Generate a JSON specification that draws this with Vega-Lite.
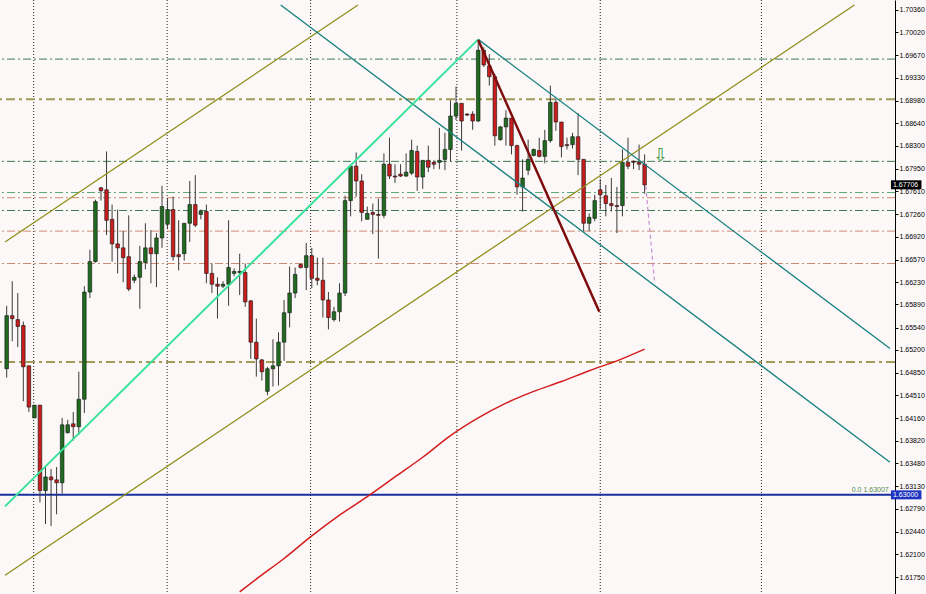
{
"$schema": "https://vega.github.io/schema/vega-lite/v6.json",
"width": 895, "height": 594,
"autosize": {"type": "none"},
"padding": {"left": 0, "top": 0, "right": 31, "bottom": 0},
"background": "#fdf8f8",
"config": {"view": {"stroke": null}, "font": "Liberation Sans"},
"resolve": {"axis": {"y": "independent", "x": "independent"}},
"datasets": {
"vgrid": [{"i": 4.87}, {"i": 28.93}, {"i": 54.78}, {"i": 81.16}, {"i": 107.0}, {"i": 136.06}],
"levels": [
{"p": 1.69614, "g": "dg"}, {"p": 1.68062, "g": "dg"}, {"p": 1.67589, "g": "lg"},
{"p": 1.67510, "g": "sa"}, {"p": 1.67316, "g": "dg"}, {"p": 1.67003, "g": "sa"}, {"p": 1.66511, "g": "sa"}],
"olevels": [{"p": 1.69003}, {"p": 1.65018}],
"blue": [{"p": 1.63000}],
"candles": [
{"i":0,"o":1.64914,"h":1.65869,"l":1.64780,"c":1.65720},
{"i":1,"o":1.65720,"h":1.66242,"l":1.65332,"c":1.65675},
{"i":2,"o":1.65660,"h":1.66063,"l":1.65242,"c":1.65556},
{"i":3,"o":1.65570,"h":1.65630,"l":1.64421,"c":1.64944},
{"i":4,"o":1.64959,"h":1.64959,"l":1.64257,"c":1.64332},
{"i":5,"o":1.64168,"h":1.64362,"l":1.64168,"c":1.64362},
{"i":6,"o":1.64362,"h":1.64362,"l":1.62885,"c":1.63064},
{"i":7,"o":1.63064,"h":1.63422,"l":1.62556,"c":1.63272},
{"i":8,"o":1.63272,"h":1.63392,"l":1.62526,"c":1.63228},
{"i":9,"o":1.63228,"h":1.63422,"l":1.62705,"c":1.63183},
{"i":10,"o":1.63183,"h":1.64168,"l":1.63019,"c":1.64063},
{"i":11,"o":1.63944,"h":1.64138,"l":1.63929,"c":1.64063},
{"i":12,"o":1.64078,"h":1.64257,"l":1.63825,"c":1.64034},
{"i":13,"o":1.64034,"h":1.64869,"l":1.63914,"c":1.64451},
{"i":14,"o":1.64451,"h":1.66167,"l":1.64242,"c":1.66078},
{"i":15,"o":1.66078,"h":1.66719,"l":1.65988,"c":1.66540},
{"i":16,"o":1.66540,"h":1.67480,"l":1.66525,"c":1.67451},
{"i":17,"o":1.67660,"h":1.67674,"l":1.67466,"c":1.67615},
{"i":18,"o":1.67630,"h":1.68212,"l":1.66943,"c":1.67167},
{"i":19,"o":1.67182,"h":1.67406,"l":1.66540,"c":1.66809},
{"i":20,"o":1.66809,"h":1.67331,"l":1.66361,"c":1.66749},
{"i":21,"o":1.66749,"h":1.67003,"l":1.66227,"c":1.66600},
{"i":22,"o":1.66615,"h":1.67242,"l":1.66093,"c":1.66123},
{"i":23,"o":1.66257,"h":1.66346,"l":1.66212,"c":1.66302},
{"i":24,"o":1.66302,"h":1.66779,"l":1.65824,"c":1.66540},
{"i":25,"o":1.66525,"h":1.67122,"l":1.66421,"c":1.66749},
{"i":26,"o":1.66749,"h":1.67018,"l":1.66212,"c":1.66660},
{"i":27,"o":1.66660,"h":1.66973,"l":1.66152,"c":1.66899},
{"i":28,"o":1.66899,"h":1.67689,"l":1.66749,"c":1.67376},
{"i":29,"o":1.67107,"h":1.67495,"l":1.67033,"c":1.67331},
{"i":30,"o":1.67331,"h":1.67525,"l":1.66555,"c":1.66615},
{"i":31,"o":1.66645,"h":1.67167,"l":1.66406,"c":1.66615},
{"i":32,"o":1.66660,"h":1.67122,"l":1.66555,"c":1.67122},
{"i":33,"o":1.67122,"h":1.67764,"l":1.66839,"c":1.67406},
{"i":34,"o":1.67406,"h":1.67853,"l":1.67063,"c":1.67093},
{"i":35,"o":1.67257,"h":1.67331,"l":1.67182,"c":1.67301},
{"i":36,"o":1.67301,"h":1.67406,"l":1.66212,"c":1.66361},
{"i":37,"o":1.66361,"h":1.66511,"l":1.66063,"c":1.66197},
{"i":38,"o":1.66197,"h":1.66302,"l":1.65675,"c":1.66167},
{"i":39,"o":1.66167,"h":1.66242,"l":1.66138,"c":1.66197},
{"i":40,"o":1.66197,"h":1.67167,"l":1.65869,"c":1.66451},
{"i":41,"o":1.66361,"h":1.66436,"l":1.66317,"c":1.66391},
{"i":42,"o":1.66376,"h":1.66660,"l":1.66033,"c":1.66391},
{"i":43,"o":1.66376,"h":1.66511,"l":1.65854,"c":1.65929},
{"i":44,"o":1.65944,"h":1.65958,"l":1.65063,"c":1.65317},
{"i":45,"o":1.65317,"h":1.65675,"l":1.64794,"c":1.65063},
{"i":46,"o":1.65048,"h":1.65063,"l":1.64735,"c":1.64869},
{"i":47,"o":1.64571,"h":1.64944,"l":1.64511,"c":1.64914},
{"i":48,"o":1.64914,"h":1.65362,"l":1.64645,"c":1.64959},
{"i":49,"o":1.64959,"h":1.65466,"l":1.64660,"c":1.65317},
{"i":50,"o":1.65317,"h":1.65958,"l":1.65033,"c":1.65764},
{"i":51,"o":1.65764,"h":1.66466,"l":1.65541,"c":1.66063},
{"i":52,"o":1.66063,"h":1.66451,"l":1.65988,"c":1.66346},
{"i":53,"o":1.66496,"h":1.66511,"l":1.66436,"c":1.66451},
{"i":54,"o":1.66451,"h":1.66824,"l":1.66108,"c":1.66630},
{"i":55,"o":1.66630,"h":1.66749,"l":1.66138,"c":1.66287},
{"i":56,"o":1.66287,"h":1.66600,"l":1.66182,"c":1.66257},
{"i":57,"o":1.66257,"h":1.66600,"l":1.65690,"c":1.65958},
{"i":58,"o":1.65958,"h":1.66078,"l":1.65511,"c":1.65690},
{"i":59,"o":1.65660,"h":1.65854,"l":1.65630,"c":1.65779},
{"i":60,"o":1.65779,"h":1.66212,"l":1.65630,"c":1.66063},
{"i":61,"o":1.66063,"h":1.67540,"l":1.66018,"c":1.67466},
{"i":62,"o":1.67466,"h":1.67988,"l":1.67227,"c":1.67988},
{"i":63,"o":1.67988,"h":1.68197,"l":1.67525,"c":1.67764},
{"i":64,"o":1.67764,"h":1.67868,"l":1.67152,"c":1.67287},
{"i":65,"o":1.67182,"h":1.67376,"l":1.67182,"c":1.67272},
{"i":66,"o":1.67287,"h":1.67421,"l":1.66958,"c":1.67257},
{"i":67,"o":1.67257,"h":1.67495,"l":1.66585,"c":1.67242},
{"i":68,"o":1.67242,"h":1.68182,"l":1.67197,"c":1.68018},
{"i":69,"o":1.68018,"h":1.68421,"l":1.67794,"c":1.67839},
{"i":70,"o":1.67839,"h":1.68018,"l":1.67734,"c":1.67824},
{"i":71,"o":1.67868,"h":1.68018,"l":1.67824,"c":1.67839},
{"i":72,"o":1.67839,"h":1.68182,"l":1.67824,"c":1.67898},
{"i":73,"o":1.67883,"h":1.68391,"l":1.67853,"c":1.68227},
{"i":74,"o":1.68212,"h":1.68301,"l":1.67615,"c":1.67824},
{"i":75,"o":1.67824,"h":1.68077,"l":1.67645,"c":1.68077},
{"i":76,"o":1.68077,"h":1.68301,"l":1.67898,"c":1.67973},
{"i":77,"o":1.68047,"h":1.68077,"l":1.67943,"c":1.68018},
{"i":78,"o":1.68047,"h":1.68570,"l":1.67943,"c":1.68077},
{"i":79,"o":1.68092,"h":1.68495,"l":1.67928,"c":1.68242},
{"i":80,"o":1.68242,"h":1.68988,"l":1.68062,"c":1.68749},
{"i":81,"o":1.68749,"h":1.69197,"l":1.68689,"c":1.68943},
{"i":82,"o":1.68943,"h":1.68943,"l":1.68227,"c":1.68674},
{"i":83,"o":1.68779,"h":1.68794,"l":1.68749,"c":1.68764},
{"i":84,"o":1.68779,"h":1.68823,"l":1.68540,"c":1.68674},
{"i":85,"o":1.68674,"h":1.69913,"l":1.68659,"c":1.69749},
{"i":86,"o":1.69749,"h":1.69793,"l":1.69495,"c":1.69525},
{"i":87,"o":1.69510,"h":1.69689,"l":1.69211,"c":1.69346},
{"i":88,"o":1.69346,"h":1.69390,"l":1.68301,"c":1.68450},
{"i":89,"o":1.68391,"h":1.68600,"l":1.68376,"c":1.68585},
{"i":90,"o":1.68585,"h":1.68838,"l":1.68301,"c":1.68719},
{"i":91,"o":1.68719,"h":1.68719,"l":1.68167,"c":1.68301},
{"i":92,"o":1.68301,"h":1.68316,"l":1.67555,"c":1.67674},
{"i":93,"o":1.67674,"h":1.68092,"l":1.67301,"c":1.67809},
{"i":94,"o":1.67928,"h":1.68391,"l":1.67853,"c":1.68092},
{"i":95,"o":1.68152,"h":1.68256,"l":1.68137,"c":1.68242},
{"i":96,"o":1.68227,"h":1.68421,"l":1.68122,"c":1.68137},
{"i":97,"o":1.68137,"h":1.68540,"l":1.68033,"c":1.68376},
{"i":98,"o":1.68376,"h":1.69211,"l":1.68346,"c":1.68958},
{"i":99,"o":1.68958,"h":1.69017,"l":1.68525,"c":1.68659},
{"i":100,"o":1.68659,"h":1.68659,"l":1.68122,"c":1.68286},
{"i":101,"o":1.68316,"h":1.68421,"l":1.68242,"c":1.68301},
{"i":102,"o":1.68316,"h":1.68495,"l":1.68256,"c":1.68436},
{"i":103,"o":1.68436,"h":1.68794,"l":1.67853,"c":1.68092},
{"i":104,"o":1.68092,"h":1.68092,"l":1.67003,"c":1.67122},
{"i":105,"o":1.67122,"h":1.67272,"l":1.67003,"c":1.67212},
{"i":106,"o":1.67197,"h":1.67555,"l":1.67152,"c":1.67466},
{"i":107,"o":1.67630,"h":1.67794,"l":1.67331,"c":1.67555},
{"i":108,"o":1.67540,"h":1.67704,"l":1.67227,"c":1.67421},
{"i":109,"o":1.67421,"h":1.67809,"l":1.67301,"c":1.67391},
{"i":110,"o":1.67391,"h":1.67674,"l":1.66973,"c":1.67376},
{"i":111,"o":1.67391,"h":1.68242,"l":1.67227,"c":1.68047},
{"i":112,"o":1.68047,"h":1.68421,"l":1.67943,"c":1.67988},
{"i":113,"o":1.68062,"h":1.68077,"l":1.67943,"c":1.68047},
{"i":114,"o":1.68047,"h":1.68316,"l":1.67928,"c":1.68018},
{"i":115,"o":1.68018,"h":1.68167,"l":1.67570,"c":1.67704}
],
"ma": [
{"i":42,"p":1.61527},{"i":45,"p":1.61721},{"i":50,"p":1.62034},{"i":55,"p":1.62377},
{"i":60,"p":1.62691},{"i":65,"p":1.62974},{"i":70,"p":1.63272},{"i":75,"p":1.63571},
{"i":80,"p":1.63899},{"i":85,"p":1.64168},{"i":90,"p":1.64392},{"i":95,"p":1.64571},
{"i":100,"p":1.64720},{"i":105,"p":1.64884},{"i":110,"p":1.65033},{"i":115,"p":1.65212}
],
"lines": [
{"id":"ol1","i":-0.303,"p":1.66839},{"id":"ol1","i":63.33,"p":1.70435},
{"id":"ol2","i":-0.303,"p":1.61780},{"id":"ol2","i":152.82,"p":1.70435},
{"id":"sg","i":-0.303,"p":1.62825},{"id":"sg","i":85,"p":1.69913},
{"id":"tl1","i":85,"p":1.69913},{"id":"tl1","i":159.23,"p":1.65220},
{"id":"tl2","i":49.39,"p":1.70435},{"id":"tl2","i":159.23,"p":1.63496},
{"id":"mr","i":85,"p":1.69905},{"id":"mr","i":106.83,"p":1.65779},
{"id":"vi","i":115.2,"p":1.67689},{"id":"vi","i":116.8,"p":1.66212}
],
"arrow": [{"i":117.9,"p":1.68137,"t":"⇩"}],
"fib": [{"i":159.0,"p":1.63007,"t":"0.0 1.63007"}],
"tags": [{"p":1.67706,"t":"1.67706","k":"bid"},{"p":1.63000,"t":"1.63000","k":"lvl"}]
},
"layer": [
{"data":{"name":"vgrid"},"mark":{"type":"rule","color":"#222222","strokeDash":[1,2],"strokeWidth":1},
 "encoding":{"x":{"field":"i","type":"quantitative","scale":{"domain":[-0.303,159.23],"nice":false,"zero":false},"axis":null}}},
{"data":{"name":"levels"},"mark":{"type":"rule","strokeDash":[8,3,2,3],"strokeWidth":1},
 "encoding":{"y":{"field":"p","type":"quantitative","scale":{"domain":[1.61571,1.70435],"nice":false,"zero":false},
   "axis":{"orient":"right","values":[1.7036,1.7002,1.6967,1.6933,1.6898,1.6864,1.683,1.6795,1.6761,1.6726,1.6692,1.6657,1.6623,1.6589,1.6554,1.652,1.6485,1.6451,1.6416,1.6382,1.6348,1.6313,1.6279,1.6244,1.621,1.6175],
    "format":".5f","title":null,"grid":false,"domainColor":"#000000","domainWidth":1,"tickColor":"#000000","tickSize":3,"labelPadding":1,
    "labelFont":"Liberation Sans","labelFontSize":7,"labelColor":"#000000","labelOverlap":false,"labelBound":false,"labelFlush":false}},
  "color":{"field":"g","type":"nominal","scale":{"domain":["dg","lg","sa"],"range":["#3f7a52","#5fa878","#cc8a70"]},"legend":null}}},
{"data":{"name":"olevels"},"mark":{"type":"rule","strokeDash":[9,4,3,4],"strokeWidth":2,"color":"#a39a55"},
 "encoding":{"y":{"field":"p","type":"quantitative","scale":{"domain":[1.61571,1.70435],"nice":false,"zero":false},"axis":null}}},
{"data":{"name":"blue"},"mark":{"type":"rule","strokeWidth":2,"color":"#1730a0"},
 "encoding":{"y":{"field":"p","type":"quantitative","scale":{"domain":[1.61571,1.70435],"nice":false,"zero":false},"axis":null}}},
{"data":{"name":"ma"},"mark":{"type":"line","color":"#d41c1c","strokeWidth":1.5,"clip":true,"interpolate":"monotone"},
 "encoding":{"x":{"field":"i","type":"quantitative","scale":{"domain":[-0.303,159.23],"nice":false,"zero":false},"axis":null},
  "y":{"field":"p","type":"quantitative","scale":{"domain":[1.61571,1.70435],"nice":false,"zero":false},"axis":null}}},
{"data":{"name":"candles"},"mark":{"type":"rule","color":"#3a3a3a","strokeWidth":1},
 "encoding":{"x":{"field":"i","type":"quantitative","scale":{"domain":[-0.303,159.23],"nice":false,"zero":false},"axis":null},
  "y":{"field":"l","type":"quantitative","scale":{"domain":[1.61571,1.70435],"nice":false,"zero":false},"axis":null},
  "y2":{"field":"h"}}},
{"data":{"name":"candles"},"mark":{"type":"bar","width":3.6,"stroke":"#111111","strokeWidth":0.6},
 "encoding":{"x":{"field":"i","type":"quantitative","scale":{"domain":[-0.303,159.23],"nice":false,"zero":false},"axis":null},
  "y":{"field":"o","type":"quantitative","scale":{"domain":[1.61571,1.70435],"nice":false,"zero":false},"axis":null},
  "y2":{"field":"c"},
  "color":{"condition":{"test":"datum.c >= datum.o","value":"#1f6b1f"},"value":"#c81e1e"}}},
{"data":{"name":"lines"},"transform":[{"filter":"datum.id == 'ol1' || datum.id == 'ol2'"}],
 "mark":{"type":"line","color":"#8f8f1a","strokeWidth":1.3,"clip":true},
 "encoding":{"x":{"field":"i","type":"quantitative","scale":{"domain":[-0.303,159.23],"nice":false,"zero":false},"axis":null},
  "y":{"field":"p","type":"quantitative","scale":{"domain":[1.61571,1.70435],"nice":false,"zero":false},"axis":null},"detail":{"field":"id"}}},
{"data":{"name":"lines"},"transform":[{"filter":"datum.id == 'tl1' || datum.id == 'tl2'"}],
 "mark":{"type":"line","color":"#15807f","strokeWidth":1.3,"clip":true},
 "encoding":{"x":{"field":"i","type":"quantitative","scale":{"domain":[-0.303,159.23],"nice":false,"zero":false},"axis":null},
  "y":{"field":"p","type":"quantitative","scale":{"domain":[1.61571,1.70435],"nice":false,"zero":false},"axis":null},"detail":{"field":"id"}}},
{"data":{"name":"lines"},"transform":[{"filter":"datum.id == 'sg'"}],
 "mark":{"type":"line","color":"#35e39a","strokeWidth":2,"clip":true},
 "encoding":{"x":{"field":"i","type":"quantitative","scale":{"domain":[-0.303,159.23],"nice":false,"zero":false},"axis":null},
  "y":{"field":"p","type":"quantitative","scale":{"domain":[1.61571,1.70435],"nice":false,"zero":false},"axis":null}}},
{"data":{"name":"lines"},"transform":[{"filter":"datum.id == 'mr'"}],
 "mark":{"type":"line","color":"#7d0c0c","strokeWidth":2.5,"clip":true},
 "encoding":{"x":{"field":"i","type":"quantitative","scale":{"domain":[-0.303,159.23],"nice":false,"zero":false},"axis":null},
  "y":{"field":"p","type":"quantitative","scale":{"domain":[1.61571,1.70435],"nice":false,"zero":false},"axis":null}}},
{"data":{"name":"lines"},"transform":[{"filter":"datum.id == 'vi'"}],
 "mark":{"type":"line","color":"#c68fd0","strokeWidth":1.2,"strokeDash":[4,3],"clip":true},
 "encoding":{"x":{"field":"i","type":"quantitative","scale":{"domain":[-0.303,159.23],"nice":false,"zero":false},"axis":null},
  "y":{"field":"p","type":"quantitative","scale":{"domain":[1.61571,1.70435],"nice":false,"zero":false},"axis":null}}},
{"data":{"name":"arrow"},"mark":{"type":"text","color":"#3f9a3f","fontSize":18,"font":"DejaVu Sans","baseline":"middle","align":"center"},
 "encoding":{"x":{"field":"i","type":"quantitative","scale":{"domain":[-0.303,159.23],"nice":false,"zero":false},"axis":null},
  "y":{"field":"p","type":"quantitative","scale":{"domain":[1.61571,1.70435],"nice":false,"zero":false},"axis":null},"text":{"field":"t"}}},
{"data":{"name":"fib"},"mark":{"type":"text","color":"#4f8a4f","fontSize":7,"font":"Liberation Sans","baseline":"bottom","align":"right","dy":-1},
 "encoding":{"x":{"field":"i","type":"quantitative","scale":{"domain":[-0.303,159.23],"nice":false,"zero":false},"axis":null},
  "y":{"field":"p","type":"quantitative","scale":{"domain":[1.61571,1.70435],"nice":false,"zero":false},"axis":null},"text":{"field":"t"}}},
{"data":{"name":"tags"},"mark":{"type":"bar","height":9,"clip":false},
 "encoding":{"x":{"datum":159.4,"type":"quantitative","scale":{"domain":[-0.303,159.23],"nice":false,"zero":false},"axis":null},
  "x2":{"datum":164.9},
  "y":{"field":"p","type":"quantitative","scale":{"domain":[1.61571,1.70435],"nice":false,"zero":false},"axis":null},
  "color":{"condition":{"test":"datum.k == 'bid'","value":"#000000"},"value":"#1c34c0"}}},
{"data":{"name":"tags"},"mark":{"type":"text","color":"#ffffff","fontSize":7,"font":"Liberation Sans","baseline":"middle","align":"left","dx":2},
 "encoding":{"x":{"datum":159.4,"type":"quantitative","scale":{"domain":[-0.303,159.23],"nice":false,"zero":false},"axis":null},
  "y":{"field":"p","type":"quantitative","scale":{"domain":[1.61571,1.70435],"nice":false,"zero":false},"axis":null},"text":{"field":"t"}}}
]
}
